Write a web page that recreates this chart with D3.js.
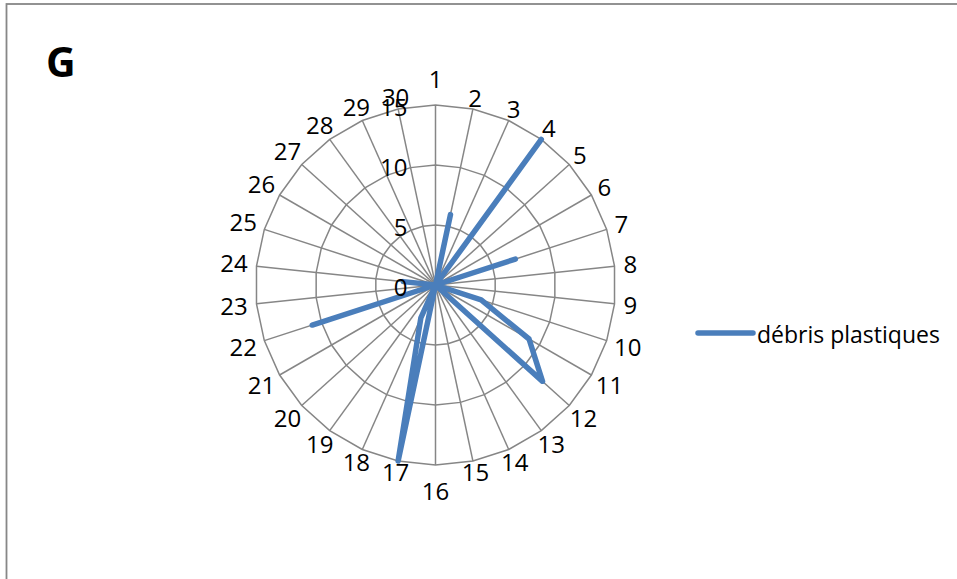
<!DOCTYPE html>
<html>
<head>
<meta charset="utf-8">
<script src="https://cdn.jsdelivr.net/npm/d3@7"></script>
<style>
  html, body { margin: 0; padding: 0; background: #fff; }
  svg { display: block; }
</style>
</head>
<body>
<svg id="chart" width="957" height="579"></svg>
<script>
// ---- data ----
const categories = ["1","2","3","4","5","6","7","8","9","10","11","12","13","14","15","16","17","18","19","20","21","22","23","24","25","26","27","28","29","30"];
const seriesName = "débris plastiques";
const values = [0, 6, 0, 15, 0, 0, 7, 0, 0, 4, 9, 12, 0, 0, 0, 0, 15, 3, 0, 0, 0, 10.8, 0, 2.7, 0, 0, 0, 0, 0, 0];
const tickValues = [0, 5, 10, 15];
const title = "G";

// ---- layout ----
const W = 957, H = 579;
const cx = 435.5, cy = 285, R = 180;
const font = "'Open Sans', 'Liberation Sans', sans-serif";
const gridColor = "#868686";
const lineColor = "#4A7EBB";

const svg = d3.select("#chart");

// frame border (extends beyond the visible area)
svg.append("rect")
  .attr("x", 6.5).attr("y", 4).attr("width", W + 20).attr("height", H + 20)
  .attr("fill", "none").attr("stroke", "#878787").attr("stroke-width", 1.8);

// title
svg.append("text")
  .attr("x", 46).attr("y", 77)
  .attr("font-family", font).attr("font-weight", "bold").attr("font-size", 41)
  .attr("fill", "#000").text(title);

const n = categories.length;
const angle = d3.scaleLinear().domain([0, n]).range([0, 2 * Math.PI]);
const r = d3.scaleLinear().domain([0, 15]).range([0, R]);

const g = svg.append("g").attr("transform", `translate(${cx},${cy})`);

function pt(i, v) {
  const a = angle(i);
  return [Math.sin(a) * r(v), -Math.cos(a) * r(v)];
}

// ring polygons
tickValues.filter(t => t > 0).forEach(t => {
  const pts = d3.range(n).map(i => pt(i, t));
  g.append("path")
    .attr("d", d3.line().curve(d3.curveLinearClosed)(pts))
    .attr("fill", "none").attr("stroke", gridColor).attr("stroke-width", 1.5);
});

// spokes
g.selectAll("line.spoke").data(d3.range(n)).enter().append("line")
  .attr("class", "spoke")
  .attr("x1", 0).attr("y1", 0)
  .attr("x2", i => pt(i, 15)[0]).attr("y2", i => pt(i, 15)[1])
  .attr("stroke", gridColor).attr("stroke-width", 1.5);

// category labels
g.selectAll("text.cat").data(categories).enter().append("text")
  .attr("class", "cat")
  .attr("font-family", font).attr("font-size", 24).attr("fill", "#000")
  .attr("text-anchor", "middle")
  .attr("dy", "0.357em")
  .text(d => d)
  .each(function(d, i) {
    const a = angle(i);
    const w = this.getComputedTextLength();
    const s = Math.abs(Math.sin(a));
    let rr = R + 9 + s * w / 2;
    if (s < 0.01) rr += 17;
    d3.select(this).attr("x", Math.sin(a) * rr).attr("y", -Math.cos(a) * rr);
  });

// series line
const pts = values.map((v, i) => pt(i, v));
g.append("path")
  .attr("d", d3.line().curve(d3.curveLinearClosed)(pts))
  .attr("fill", "none").attr("stroke", lineColor).attr("stroke-width", 5.5)
  .attr("stroke-linejoin", "round").attr("stroke-linecap", "round");

// radial axis tick labels
g.selectAll("text.tick").data(tickValues).enter().append("text")
  .attr("class", "tick")
  .attr("font-family", font).attr("font-size", 24).attr("fill", "#000")
  .attr("text-anchor", "end")
  .attr("x", -28)
  .attr("y", d => -r(d) + 2.5)
  .attr("dy", "0.357em")
  .text(d => d);

// legend
const lg = svg.append("g").attr("transform", "translate(698,333)");
lg.append("line").attr("x1", 0).attr("x2", 55).attr("y1", 0).attr("y2", 0)
  .attr("stroke", lineColor).attr("stroke-width", 5.5).attr("stroke-linecap", "round");
lg.append("text").attr("x", 59).attr("y", 10)
  .attr("font-family", font).attr("font-size", 23).attr("fill", "#000")
  .text(seriesName);
</script>
</body>
</html>
